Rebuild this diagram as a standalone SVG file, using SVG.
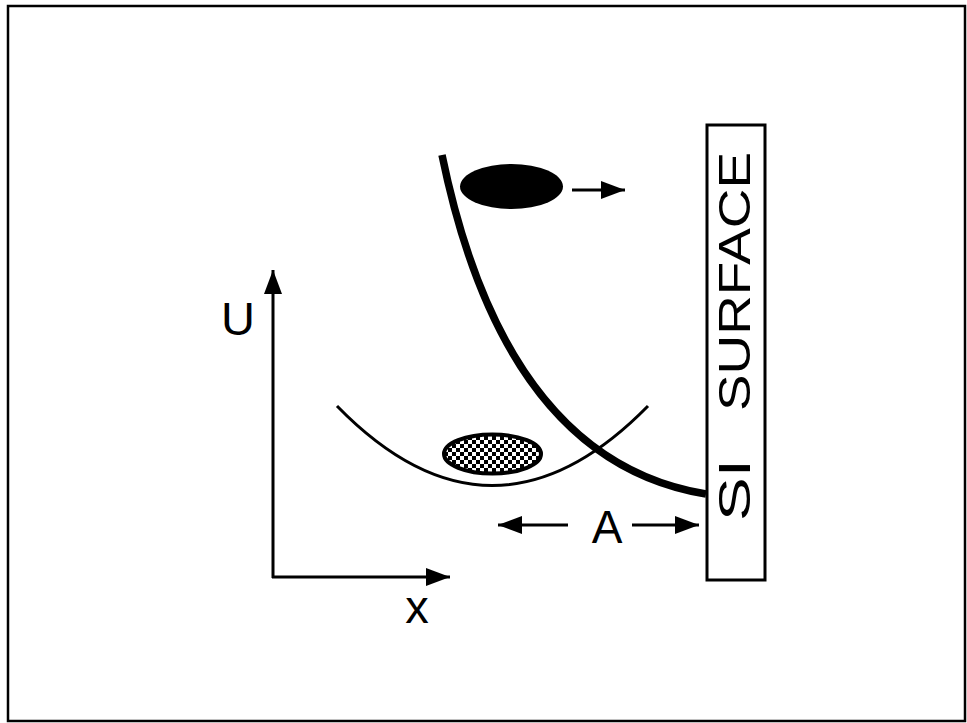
<svg xmlns="http://www.w3.org/2000/svg" width="967" height="723" viewBox="0 0 967 723">
<style>
.ln{fill:none;stroke:#000;stroke-width:3}
.tx{font-family:"Liberation Sans",Arial,sans-serif;fill:#000}
.si{font-size:45px}
</style>
<defs>
<pattern id="chk" x="0" y="0" width="8" height="8" patternUnits="userSpaceOnUse">
<rect width="8" height="8" fill="#fff"/>
<rect width="4" height="4" fill="#000"/>
<rect x="4" y="4" width="4" height="4" fill="#000"/>
</pattern>
<marker id="ah" viewBox="0 0 24 18" refX="24" refY="9" markerWidth="24" markerHeight="18" markerUnits="userSpaceOnUse" orient="auto">
<path d="M0,0 L24,9 L0,18 Z" fill="#000"/>
</marker>
</defs>
<rect x="8" y="6" width="957" height="715" fill="#fff" stroke="#000" stroke-width="2.5"/>
<g id="axes">
<path class="ln" d="M273,578 L273,270" marker-end="url(#ah)"/>
<path class="ln" d="M272,577 L450,577" marker-end="url(#ah)"/>
<text class="tx" x="238" y="335" font-size="47" text-anchor="middle">U</text>
<text class="tx" x="417" y="623" font-size="47" text-anchor="middle">x</text>
</g>
<g id="surface">
<rect x="707" y="125" width="58" height="455" fill="#fff" stroke="#000" stroke-width="3"/>
<g transform="translate(750,521) rotate(-90)">
<text class="tx si" x="0" y="0" textLength="62" lengthAdjust="spacingAndGlyphs">SI</text>
<text class="tx si" x="110" y="0" textLength="259" lengthAdjust="spacingAndGlyphs">SURFACE</text>
</g>
</g>
<g id="well">
<path class="ln" d="M337,406 Q492,565 648,406"/>
</g>
<g id="repulsive">
<path fill="none" stroke="#000" stroke-width="7.5" d="M442,155 C480,340 560,470 706,494"/>
</g>
<g id="trapped">
<ellipse cx="492.5" cy="454" rx="48.5" ry="19.5" fill="url(#chk)" stroke="#000" stroke-width="4"/>
</g>
<g id="moving">
<ellipse cx="511.5" cy="186.5" rx="51.5" ry="22.5" fill="#000"/>
</g>
<g id="connectors">
<path class="ln" d="M572,190 L625,190" marker-end="url(#ah)"/>
<path class="ln" d="M568,525 L498,525" marker-end="url(#ah)"/>
<path class="ln" d="M632,525 L699,525" marker-end="url(#ah)"/>
<text class="tx" x="607" y="543" font-size="46" text-anchor="middle">A</text>
</g>
</svg>
